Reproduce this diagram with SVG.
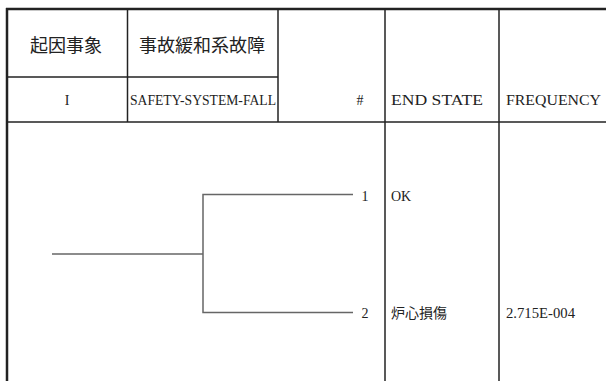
<svg xmlns="http://www.w3.org/2000/svg" width="606" height="381" viewBox="0 0 606 381">
<style>
.grid{stroke:#222;stroke-width:1.5;fill:none}
.thick{stroke:#222;stroke-width:2.5;fill:none}
.branch{stroke:#666;stroke-width:1.5;fill:none}
.jp{font-family:"Liberation Serif","Noto Sans CJK JP",serif;font-size:18px;fill:#222}
.t{font-family:"Liberation Serif","Noto Sans CJK JP",serif;font-size:14px;fill:#222}
</style>
<rect width="606" height="381" fill="#fff"/>
<g id="table">
<line class="thick" x1="6" y1="9" x2="606" y2="9"/>
<line class="thick" x1="7" y1="8" x2="7" y2="381"/>
<line class="grid" x1="7" y1="77" x2="278" y2="77"/>
<line class="grid" x1="7" y1="122" x2="606" y2="122"/>
<line class="grid" x1="127.5" y1="9" x2="127.5" y2="122"/>
<line class="grid" x1="278" y1="9" x2="278" y2="122"/>
<line class="grid" x1="385" y1="9" x2="385" y2="381"/>
<line class="grid" x1="499" y1="9" x2="499" y2="381"/>
</g>
<g id="headers">
<text class="jp" x="66" y="52" text-anchor="middle">起因事象</text>
<text class="jp" x="202" y="52" text-anchor="middle">事故緩和系故障</text>
<text class="t" x="67" y="105" text-anchor="middle">I</text>
<text class="t" x="130" y="105" textLength="146" lengthAdjust="spacingAndGlyphs">SAFETY-SYSTEM-FALL</text>
<text class="t" x="360" y="105" text-anchor="middle">#</text>
<text class="t" x="391" y="105" textLength="92" lengthAdjust="spacingAndGlyphs">END STATE</text>
<text class="t" x="506" y="105" textLength="95" lengthAdjust="spacingAndGlyphs">FREQUENCY</text>
</g>
<g id="connectors">
<polyline class="branch" points="52,254 203,254"/>
<polyline class="branch" points="353,194.5 203,194.5 203,312.5 353,312.5"/>
</g>
<g id="seq1">
<text class="t" x="365" y="201" text-anchor="middle">1</text>
<text class="t" x="391" y="201">OK</text>
</g>
<g id="seq2">
<text class="t" x="365" y="318" text-anchor="middle">2</text>
<text class="t" x="391" y="318" font-size="15">炉心損傷</text>
<text class="t" x="506" y="318" textLength="69" lengthAdjust="spacingAndGlyphs">2.715E-004</text>
</g>
</svg>
